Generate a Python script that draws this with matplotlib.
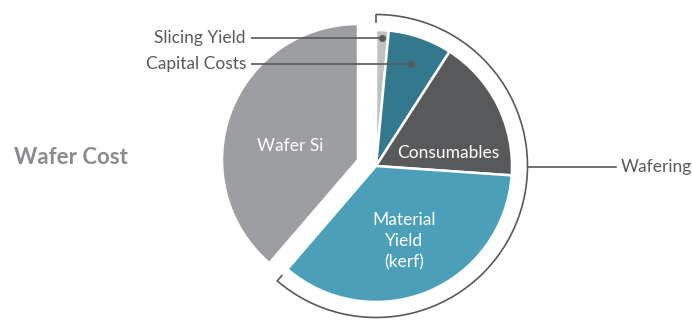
import numpy as np
import matplotlib
matplotlib.use("Agg")
import matplotlib.pyplot as plt
from matplotlib.patches import Arc

plt.rcParams['font.family'] = ['Lato', 'DejaVu Sans']

# wafer cost breakdown, percent of total
wafering_parts = ['Slicing Yield', 'Capital Costs', 'Consumables', 'Material\nYield\n(kerf)']
wafering_share = [1.5, 7.6, 17.0, 35.2]
wafer_si_share = 38.7
group_label = 'Wafering'
title = 'Wafer Cost'

colors = {
    'Slicing Yield': '#c0c1c3',
    'Capital Costs': '#33788c',
    'Consumables': '#58595b',
    'Material\nYield\n(kerf)': '#4c9fb8',
    'Wafer Si': '#9d9ea1',
}
ink = '#58595b'
fs = 12.5

W, H = 692, 320
fig = plt.figure(figsize=(W / 100, H / 100), dpi=100)
ax = fig.add_axes([0, 0, 1, 1])

R = 136
si_center = (358, H - 160)
wf_center = (376, H - 166)
wedge_kw = dict(edgecolor='white', linewidth=1.8)

# Wafer Si on its own, the rest of the circle left blank
rest = 100 - wafer_si_share
si_wedges, _ = ax.pie([wafer_si_share, rest], colors=[colors['Wafer Si'], 'none'],
                      startangle=90, counterclock=True, radius=R, center=si_center,
                      wedgeprops=wedge_kw, frame=True)
si_wedges[1].set_edgecolor('none')

# wafering group, pulled out to the lower right
wf_wedges, _ = ax.pie(wafering_share + [wafer_si_share],
                      colors=[colors[p] for p in wafering_parts] + ['none'],
                      startangle=90, counterclock=False, radius=R, center=wf_center,
                      wedgeprops=wedge_kw, frame=True)
wf_wedges[-1].set_edgecolor('none')
ax.set_xlim(0, W)
ax.set_ylim(0, H)
ax.set_aspect('equal')
ax.axis('off')

# labels inside wedges
ax.text(290, H - 146, 'Wafer Si', color='white', fontsize=fs, ha='center', va='center')
ax.text(448, H - 153, 'Consumables', color='white', fontsize=fs, ha='center', va='center')
ax.text(404, H - 241, wafering_parts[3], color='white', fontsize=fs, ha='center',
        va='center', linespacing=1.4)

# leader lines for the two thin slices
cx, cy = wf_center
for w, rr, name in [(wf_wedges[0], 128, wafering_parts[0]), (wf_wedges[1], 108, wafering_parts[1])]:
    mid = np.deg2rad((w.theta1 + w.theta2) / 2)
    px, py = cx + rr * np.cos(mid), cy + rr * np.sin(mid)
    ax.plot([251, px], [py, py], color=ink, lw=1.2, solid_capstyle='butt')
    ax.plot(px, py, 'o', color=ink, ms=4)
    ax.text(246, py, name, color=ink, fontsize=fs, ha='right', va='center')

# bracket around the wafering group
t_start = wf_wedges[0].theta2
t_end = wf_wedges[3].theta1
rb = 151.5
ax.add_patch(Arc(wf_center, 2 * rb, 2 * rb, theta1=t_end, theta2=t_start,
                 color=ink, lw=1.2))
for t in (t_start, t_end):
    a = np.deg2rad(t)
    ax.plot([cx + rb * np.cos(a), cx + (rb - 7) * np.cos(a)],
            [cy + rb * np.sin(a), cy + (rb - 7) * np.sin(a)], color=ink, lw=1.2)
ax.plot([cx + rb, 616], [H - 167, H - 167], color=ink, lw=1.2)
ax.text(621, H - 167, group_label, color=ink, fontsize=fs, ha='left', va='center')

ax.text(14, H - 157, title, color='#8a8b8e', fontsize=16, fontweight='bold',
        ha='left', va='center')

fig.savefig('out.png', dpi=100)
